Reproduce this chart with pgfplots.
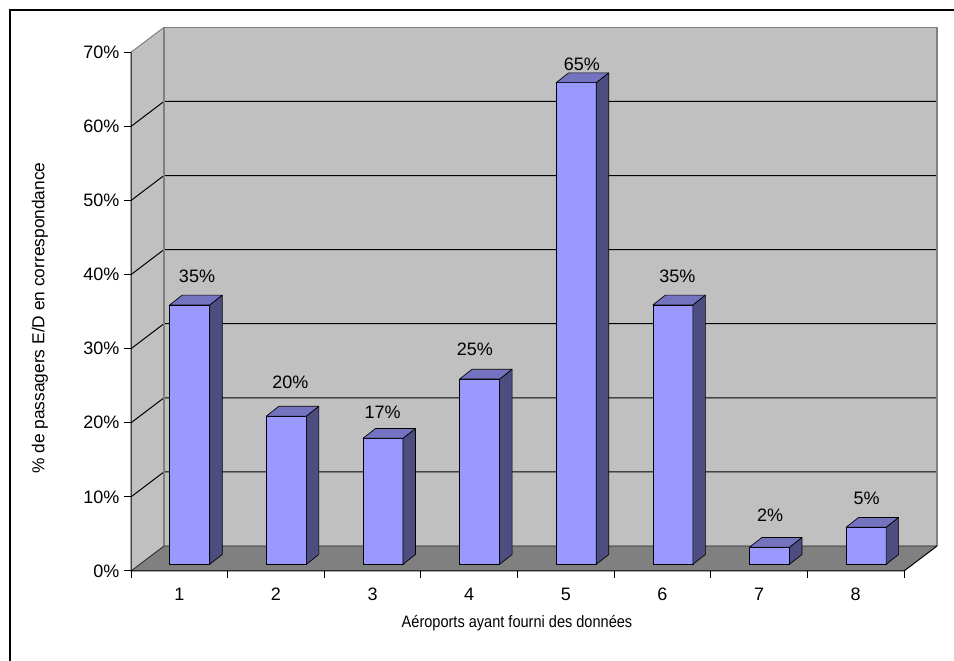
\documentclass[border=0pt]{standalone}
\usepackage{pgfplots}
\pgfplotsset{compat=1.18}
\usepackage{pgfplotstable}
\usepackage{fontspec}
\setmainfont{Liberation Sans}
\definecolor{wall}{HTML}{C0C0C0}
\definecolor{floorc}{HTML}{808080}
\definecolor{edgec}{HTML}{808080}
\definecolor{barfront}{HTML}{9999FF}
\definecolor{bartop}{HTML}{7373BF}
\definecolor{barside}{HTML}{4D4D80}
\newcommand\tlfont{\fontsize{13.5}{16}\selectfont}
\newcommand\xlfont{\fontsize{12.4}{14}\selectfont}
\newcommand\ylfont{\fontsize{13}{15}\selectfont}

\pgfplotstableread{
x v
1 35
2 20
3 17
4 25
5 65
6 35
7 2.3
8 5
}\bardata
% label offsets (px) from the data point, one per bar
\def\LX{{17.7,14.5,10,5.8,16,15,11,11}}
\def\LY{{35.4,40,32.5,36.5,24.6,35.6,39,36}}

\pgfdeclareplotmark{bar3d}{%
  \pgfmathsetmacro\barB{5.025-\barv*5.5575}%
  \pgfmathsetmacro\barS{12.375-\barv*5.5575}%
  \filldraw[fill=barfront,draw=black,line width=0.5pt,line join=round] (-7.2pt,\barB pt) rectangle (22.8pt,5.025pt);
  \filldraw[fill=barside,draw=black,line width=0.5pt,line join=round] (22.8pt,5.025pt) -- (32.175pt,12.375pt) -- (32.175pt,\barS pt) -- (22.8pt,\barB pt) -- cycle;
  \filldraw[fill=bartop,draw=black,line width=0.5pt,line join=round] (-7.2pt,5.025pt) -- (22.8pt,5.025pt) -- (32.175pt,12.375pt) -- (2.175pt,12.375pt) -- cycle;
}

\begin{document}
\begin{tikzpicture}[x=1pt,y=1pt]
\useasboundingbox (0,0) rectangle (715.5,495.75);
\fill[white] (0,0) rectangle (715.5,495.75);
\draw[line width=1.5pt] (7.5,-5) -- (7.5,488.25) -- (720,488.25);
\begin{axis}[
  at={(98.25pt,67.5pt)}, anchor=south west,
  scale only axis, width=579.75pt, height=389.025pt,
  xmin=0.5, xmax=8.5, ymin=0, ymax=70,
  clip=false,
  axis x line*=bottom, axis y line*=left,
  axis line style={draw=none},
  xtick={1,2,3,4,5,6,7,8},
  minor xtick={0.5,1.5,2.5,3.5,4.5,5.5,6.5,7.5,8.5},
  ytick={0,10,20,30,40,50,60,70},
  tick align=outside,
  major tick length=5.25pt, minor tick length=5.25pt,
  tick style={black,line width=0.75pt},
  major x tick style={draw=none},
  /pgf/number format/assume math mode=true,
  tick label style={font=\tlfont},
  xticklabel style={yshift=-3.75pt},
  xticklabel={\pgfmathprintnumber{\tick}},
  yticklabel={\pgfmathprintnumber{\tick}\%},
]
\path (axis cs:0.5,0) coordinate (FL0) (axis cs:8.5,0) coordinate (FR0)
      (axis cs:0.5,70) coordinate (FL7) (axis cs:8.5,70) coordinate (FR7);
\path ([shift={(24.75pt,18.75pt)}]FL0) coordinate (BL0)
      ([shift={(24.75pt,18.75pt)}]FR0) coordinate (BR0)
      ([shift={(24.75pt,18.75pt)}]FL7) coordinate (BL7)
      ([shift={(24.75pt,18.75pt)}]FR7) coordinate (BR7);
\fill[wall] (FL0) -- (FL7) -- (BL7) -- (BR7) -- (BR0) -- (BL0) -- cycle;
\fill[floorc] (FL0) -- (FR0) -- (BR0) -- (BL0) -- cycle;
\pgfplotsinvokeforeach{10,20,30,40,50,60}{
  \draw[black,line width=0.75pt] (axis cs:0.5,#1) -- ++(24.75pt,18.75pt) -- ([shift={(24.75pt,18.75pt)}]axis cs:8.5,#1);
}
\draw[edgec,line width=1pt] (BL0) -- (BL7) -- (BR7) -- (BR0);
\draw[edgec,line width=0.75pt] (FL7) -- (BL7);
\draw[black!85,line width=0.6pt] (FL0) -- (BL0) -- (BR0);
\draw[black,line width=0.75pt] (FL7) -- (FL0) -- (FR0) -- (BR0);
\addplot[only marks, mark=bar3d,
  point meta=explicit,
  visualization depends on={rawy\as\barv},
  visualization depends on={rawx\as\cx},
  nodes near coords={\pgfmathprintnumber[fixed,precision=0]{\pgfplotspointmeta}\%},
  nodes near coords style={font=\tlfont, anchor=center, inner sep=0pt,
    xshift={\LX[\cx-1]*0.75pt}, yshift={\LY[\cx-1]*0.75pt}},
] table[x=x,y=v,meta=v] {\bardata};
\end{axis}
\node[font=\ylfont, rotate=90] at (30,257.25) {\% de passagers E/D en correspondance};
\node[font=\xlfont, xscale=0.88] at (387.75,28.5) {Aéroports ayant fourni des données};
\end{tikzpicture}
\end{document}
